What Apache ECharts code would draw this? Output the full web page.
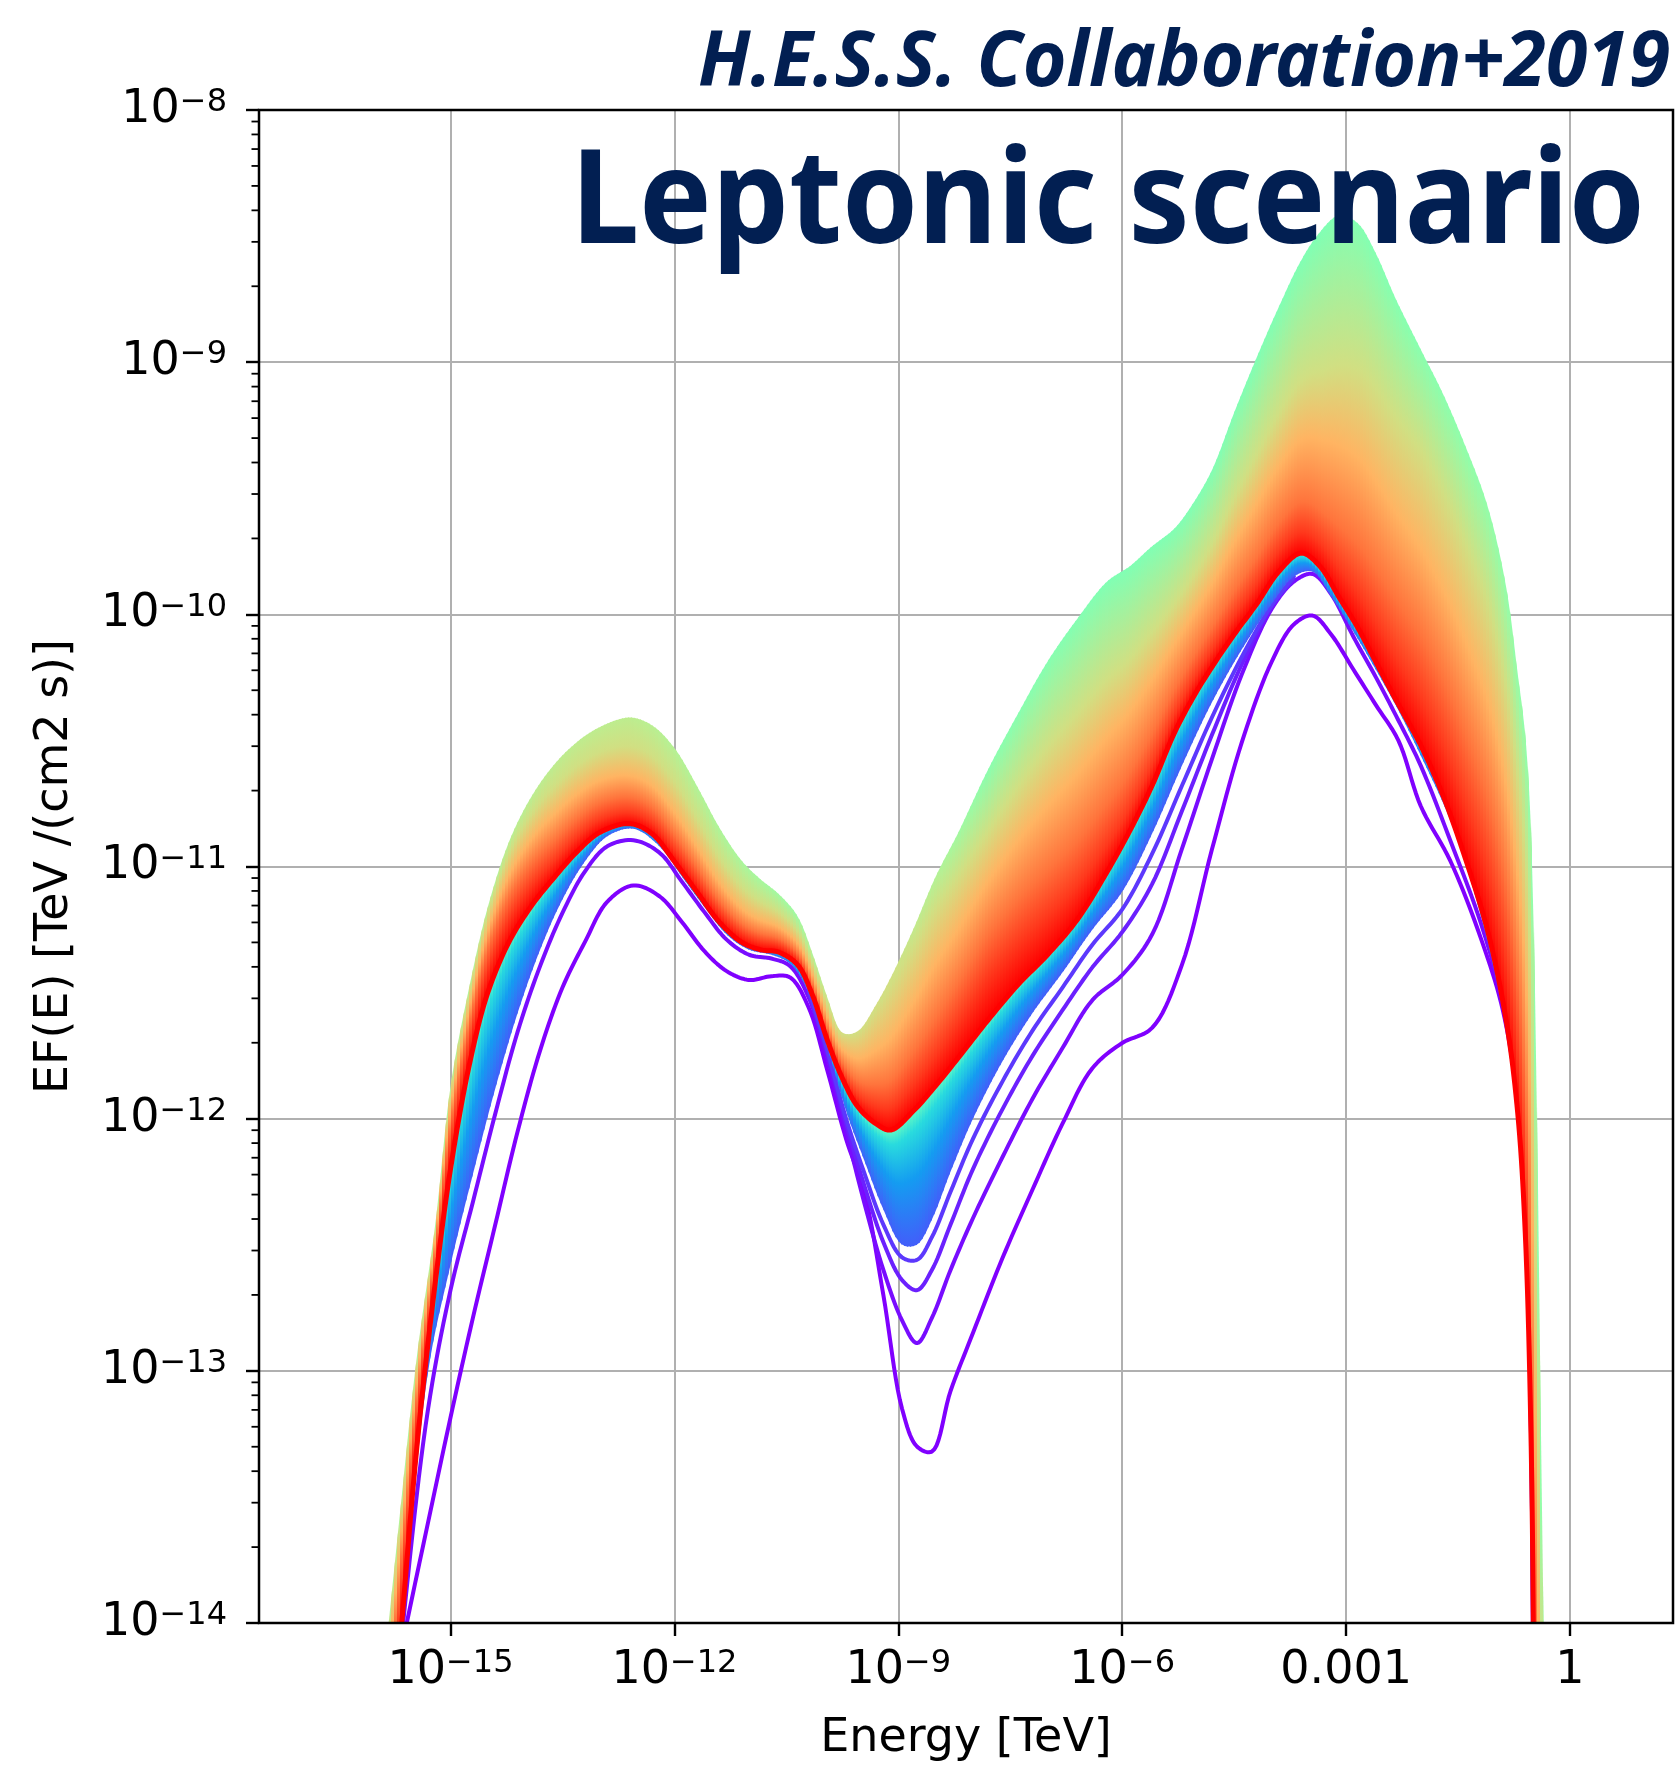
<!DOCTYPE html>
<html><head><meta charset="utf-8">
<script src="https://cdn.jsdelivr.net/npm/echarts@6/dist/echarts.min.js"></script>
<style>html,body{margin:0;padding:0;background:#fff}#chart{width:1676px;height:1767px}</style>
</head><body><div id="chart"></div>
<script>
// ===== DATA (all values are log10) =====
// tick labels
const xTickValues = [-15, -12, -9, -6, -3, 0];
const xTickLabels = ['10|−15', '10|−12', '10|−9', '10|−6', '0.001', '1'];
const yTickValues = [-14, -13, -12, -11, -10, -9, -8];
const yTickLabels = ['10|−14', '10|−13', '10|−12', '10|−11', '10|−10', '10|−9', '10|−8'];

// energy grid (log10 E/TeV) used by the outer curves of the model family
const gridU = [-16.0,-15.7,-15.45,-15.2,-15.0,-14.75,-14.5,-14.2,-13.9,-13.6,-13.3,-13.0,-12.6,-12.3,-12.0,-11.7,-11.4,-11.1,-10.85,-10.6,-10.35,-10.15,-9.95,-9.75,-9.55,-9.3,-9.1,-8.8,-8.5,-8.2,-7.8,-7.4,-7.0,-6.6,-6.2,-5.9,-5.6,-5.3,-5.05,-4.8,-4.5,-4.2,-3.9,-3.6,-3.35,-3.1,-2.85,-2.6,-2.35,-2.0,-1.7,-1.4,-1.1,-0.85,-0.7,-0.6,-0.52,-0.46,-0.4,-0.3];
// upper envelope of all curves (log10 EF(E))
const topEnvelope = [-14.5,-13.63,-12.94,-12.41,-11.87,-11.48,-11.16,-10.89,-10.715,-10.592,-10.505,-10.447,-10.409,-10.44,-10.53,-10.68,-10.845,-10.977,-11.05,-11.11,-11.197,-11.345,-11.52,-11.66,-11.655,-11.549,-11.44,-11.25,-11.04,-10.868,-10.617,-10.396,-10.187,-10.017,-9.869,-9.81,-9.73,-9.66,-9.56,-9.43,-9.2,-8.983,-8.78,-8.595,-8.484,-8.418,-8.447,-8.57,-8.74,-8.95,-9.127,-9.335,-9.575,-9.9,-10.24,-10.47,-10.85,-11.6,-13.0,-15.2];
// last (red) curve
const redCurve = [-15.1,-14.16,-13.3,-12.64,-12.2,-11.79,-11.5,-11.29,-11.15,-11.04,-10.94,-10.865,-10.83,-10.87,-10.98,-11.1,-11.22,-11.3,-11.33,-11.34,-11.39,-11.51,-11.69,-11.84,-11.95,-12.02,-12.045,-11.97,-11.87,-11.76,-11.61,-11.47,-11.35,-11.21,-11.02,-10.86,-10.68,-10.47,-10.33,-10.21,-10.08,-9.96,-9.83,-9.757,-9.81,-9.93,-10.05,-10.19,-10.33,-10.52,-10.72,-10.97,-11.26,-11.62,-11.98,-12.45,-13.3,-15.0,-16.0,-16.5];

// energy grid for the early (violet/blue) curves
const gridL = [-16.0,-15.6,-15.3,-15.0,-14.7,-14.4,-14.1,-13.8,-13.5,-13.2,-12.9,-12.55,-12.2,-11.9,-11.6,-11.3,-11.0,-10.7,-10.45,-10.2,-9.95,-9.7,-9.45,-9.2,-8.95,-8.75,-8.55,-8.3,-8.0,-7.6,-7.2,-6.8,-6.4,-6.0,-5.6,-5.2,-4.8,-4.4,-4.0,-3.7,-3.45,-3.2,-2.9,-2.6,-2.3,-2.0,-1.6,-1.2,-0.9,-0.7,-0.58,-0.52,-0.46,-0.35];
// lower edge of the dense blue bundle
const blueEdge = [-15.3,-13.88,-13.0,-12.58,-12.22,-11.88,-11.58,-11.33,-11.13,-10.98,-10.88,-10.85,-10.92,-11.04,-11.16,-11.27,-11.33,-11.35,-11.385,-11.5,-11.72,-11.97,-12.17,-12.36,-12.5,-12.5,-12.4,-12.21,-12.0,-11.77,-11.58,-11.42,-11.25,-11.1,-10.87,-10.6,-10.35,-10.14,-9.96,-9.85,-9.83,-9.93,-10.07,-10.22,-10.38,-10.56,-10.82,-11.19,-11.58,-12.0,-12.6,-13.4,-15.0,-16.0];
// first (lowest) violet curve
const violet1 = [-14.6,-14.02,-13.6,-13.185,-12.79,-12.42,-12.05,-11.73,-11.48,-11.30,-11.14,-11.075,-11.118,-11.22,-11.335,-11.415,-11.45,-11.435,-11.44,-11.56,-11.81,-12.08,-12.3,-12.7,-13.15,-13.3,-13.32,-13.08,-12.85,-12.55,-12.28,-12.02,-11.8,-11.7,-11.64,-11.39,-10.935,-10.51,-10.19,-10.04,-10.005,-10.08,-10.22,-10.36,-10.5,-10.76,-10.98,-11.28,-11.57,-11.94,-12.47,-13.3,-15.0,-16.0];
// second violet curve
const violet2 = [-15.2,-13.9,-13.15,-12.68,-12.33,-11.98,-11.655,-11.395,-11.184,-11.02,-10.92,-10.896,-10.945,-11.06,-11.18,-11.29,-11.35,-11.365,-11.395,-11.52,-11.76,-12.05,-12.34,-12.6,-12.8,-12.89,-12.79,-12.6,-12.395,-12.15,-11.92,-11.72,-11.53,-11.43,-11.27,-10.93,-10.576,-10.24,-9.98,-9.87,-9.84,-9.92,-10.09,-10.25,-10.42,-10.6,-10.9,-11.22,-11.54,-11.92,-12.47,-13.3,-15.0,-16.0];
// two more separated curves, visible around the 1e-9..1e-4 TeV trough
const gridP = [-10.2,-9.95,-9.7,-9.45,-9.2,-8.95,-8.75,-8.55,-8.3,-8.0,-7.6,-7.2,-6.8,-6.4,-6.0,-5.6,-5.2,-4.8,-4.4,-4.0,-3.7];
const violet3 = [-11.5,-11.74,-12.02,-12.27,-12.49,-12.64,-12.68,-12.6,-12.42,-12.2,-11.96,-11.75,-11.57,-11.4,-11.26,-11.07,-10.78,-10.48,-10.2,-9.97,-9.86];
const violet4 = [-11.49,-11.73,-12.0,-12.22,-12.42,-12.55,-12.56,-12.47,-12.29,-12.08,-11.85,-11.65,-11.48,-11.31,-11.17,-10.95,-10.68,-10.41,-10.17,-9.965,-9.85];

// ===== STYLE (colour structure inside the dense fan, layout) =====
const X_MIN = -17.566, X_MAX = 1.380;
const stopX   = [-15.5,-14.5,-13.6,-12.6,-11.0,-10.35,-9.7,-9.1,-8.5,-7.8,-6.0,-5.0,-3.3,-2.0,-1.0,-0.4];
const stopTop = [0.60,0.60,0.62,0.62,0.58,0.56,0.68,0.66,0.60,0.52,0.50,0.50,0.50,0.52,0.54,0.54];
const stopF1  = [0.10,0.10,0.20,0.27,0.32,0.30,0.00,0.05,0.15,0.25,0.35,0.38,0.42,0.25,0.22,0.22];
const stopF2  = [0.30,0.30,0.45,0.55,0.59,0.55,0.35,0.40,0.42,0.45,0.55,0.58,0.62,0.50,0.45,0.45];
const stopF3  = [0.50,0.50,0.68,0.75,0.77,0.75,0.65,0.68,0.68,0.66,0.78,0.80,0.83,0.72,0.68,0.68];
const stopF4  = [0.75,0.75,0.86,0.90,0.89,0.88,0.85,0.86,0.86,0.83,0.92,0.92,0.93,0.88,0.86,0.86];

function rainbow(t) {
  const r = Math.min(1, Math.abs(2 * t - 0.5)), g = Math.sin(Math.PI * t), b = Math.cos(Math.PI * t / 2);
  return 'rgb(' + Math.round(r * 255) + ',' + Math.round(g * 255) + ',' + Math.round(b * 255) + ')';
}
function spline(pts, steps) {
  const n = pts.length, out = [];
  const P = i => {
    if (i < 0) return [2 * pts[0][0] - pts[1][0], 2 * pts[0][1] - pts[1][1]];
    if (i >= n) return [2 * pts[n - 1][0] - pts[n - 2][0], 2 * pts[n - 1][1] - pts[n - 2][1]];
    return pts[i];
  };
  const L = (p, q, u) => [p[0] + (q[0] - p[0]) * u, p[1] + (q[1] - p[1]) * u];
  const D = (p, q) => Math.max(Math.sqrt(Math.hypot(q[0] - p[0], q[1] - p[1])), 1e-4);
  for (let i = 0; i < n - 1; i++) {
    const p0 = P(i - 1), p1 = P(i), p2 = P(i + 1), p3 = P(i + 2);
    const t0 = 0, t1 = D(p0, p1), t2 = t1 + D(p1, p2), t3 = t2 + D(p2, p3);
    for (let s = 0; s < steps; s++) {
      const t = t1 + (t2 - t1) * s / steps;
      const A1 = L(p0, p1, (t - t0) / (t1 - t0)), A2 = L(p1, p2, (t - t1) / (t2 - t1)), A3 = L(p2, p3, (t - t2) / (t3 - t2));
      const B1 = L(A1, A2, (t - t0) / (t2 - t0)), B2 = L(A2, A3, (t - t1) / (t3 - t1));
      out.push(L(B1, B2, (t - t1) / (t2 - t1)));
    }
  }
  out.push(pts[n - 1]);
  return out;
}
function yAt(curve, x) {
  for (let i = 0; i < curve.length - 1; i++) {
    const a = curve[i], b = curve[i + 1];
    if ((a[0] <= x && x <= b[0]) || (b[0] <= x && x <= a[0])) {
      const dx = b[0] - a[0];
      return dx === 0 ? Math.min(a[1], b[1]) : a[1] + (b[1] - a[1]) * (x - a[0]) / dx;
    }
  }
  return null;
}
function interp1(x, xs, vs) {
  if (x <= xs[0]) return vs[0];
  for (let i = 0; i < xs.length - 1; i++) {
    if (x <= xs[i + 1]) { const u = (x - xs[i]) / (xs[i + 1] - xs[i]); return vs[i] + (vs[i + 1] - vs[i]) * u; }
  }
  return vs[vs.length - 1];
}
const toPx = (api, xs, ys) => xs.map((x, i) => api.coord([x, ys[i]]));

function curveSeries(name, xs, ys, t, width) {
  return {
    type: 'custom', name, clip: true, silent: true, animation: false,
    data: xs.map((x, i) => [x, ys[i]]), encode: { x: 0, y: 1 },
    renderItem(params, api) {
      if (params.dataIndex !== 0) return null;
      return { type: 'polyline', shape: { points: spline(toPx(api, xs, ys), 10) },
        style: { stroke: rainbow(t), lineWidth: width, fill: null, lineJoin: 'round', lineCap: 'round' } };
    }
  };
}
function bandSeries(name, xT, yT, xB, yB, stopsAt) {
  return {
    type: 'custom', name, clip: true, silent: true, animation: false,
    data: [[xT[0], yT[0]]], encode: { x: 0, y: 1 },
    renderItem(params, api) {
      const cs = params.coordSys;
      const top = spline(toPx(api, xT, yT), 10), bot = spline(toPx(api, xB, yB), 10);
      const stopPx = stopX.map(v => api.coord([v, -10])[0]);
      const children = [];
      const step = 3;
      for (let sx = cs.x; sx < cs.x + cs.width; sx += step) {
        const xa = sx, xb = Math.min(sx + step + 1, cs.x + cs.width);
        const ta = yAt(top, xa), tb = yAt(top, xb), ba = yAt(bot, xa), bb = yAt(bot, xb);
        if (ta == null || tb == null || ba == null || bb == null) continue;
        const yt = (ta + tb) / 2, yb = (ba + bb) / 2;
        if (yb - yt < 0.5) continue;
        const xm = (xa + xb) / 2;
        children.push({ type: 'polygon', shape: { points: [[xa, ta], [xb, tb], [xb, bb], [xa, ba]] },
          style: { fill: { type: 'linear', x: xm, y: yt, x2: xm, y2: yb, global: true, colorStops: stopsAt(xm, stopPx) } } });
      }
      return { type: 'group', children };
    }
  };
}
const upperStops = (px, sp) => {
  const f1 = interp1(px, sp, stopF1), f2 = interp1(px, sp, stopF2), f3 = interp1(px, sp, stopF3), f4 = interp1(px, sp, stopF4);
  return [
    { offset: 0, color: rainbow(interp1(px, sp, stopTop)) },
    { offset: f1, color: rainbow(0.66) }, { offset: f2, color: rainbow(0.75) },
    { offset: f3, color: rainbow(0.85) }, { offset: f4, color: rainbow(0.93) },
    { offset: 1, color: rainbow(1) }
  ];
};
const lowerStops = () => [
  { offset: 0, color: rainbow(0.45) }, { offset: 0.15, color: rainbow(0.33) },
  { offset: 0.5, color: rainbow(0.21) }, { offset: 1, color: rainbow(0.12) }
];

const yMinor = [];
for (let n = -14; n < -8; n++) for (let k = 2; k <= 9; k++) yMinor.push(n + Math.log10(k));

const richStyle = {
  b: { fontSize: 46, fontFamily: 'DejaVu Sans', color: '#000', lineHeight: 46 },
  s: { fontSize: 32, fontFamily: 'DejaVu Sans', color: '#000', lineHeight: 20, verticalAlign: 'top' }
};
const labelFmt = (vals, labs) => v => {
  const i = vals.findIndex(q => Math.abs(q - v) < 1e-6);
  if (i < 0) return '';
  const parts = labs[i].split('|');
  return parts.length > 1 ? '{b|' + parts[0] + '}{s|' + parts[1] + '}' : '{b|' + parts[0] + '}';
};

const chart = echarts.init(document.getElementById('chart'), null, { renderer: 'canvas' });
chart.setOption({
  backgroundColor: '#fff',
  animation: false,
  textStyle: { fontFamily: 'DejaVu Sans' },
  grid: { left: 259, top: 110, right: 3, bottom: 141, show: false },
  xAxis: {
    type: 'value', min: X_MIN, max: X_MAX, minInterval: 3, maxInterval: 3,
    name: 'Energy [TeV]', nameLocation: 'middle', nameGap: 93,
    nameTextStyle: { fontSize: 46, fontFamily: 'DejaVu Sans', color: '#000' },
    axisLine: { show: false, onZero: false },
    axisTick: { show: true, length: 13, lineStyle: { color: '#000', width: 2.4 }, customValues: xTickValues },
    axisLabel: { margin: 25, formatter: labelFmt(xTickValues, xTickLabels), rich: richStyle, customValues: xTickValues },
    splitLine: { show: true, lineStyle: { color: '#b0b0b0', width: 2 } }
  },
  yAxis: {
    type: 'value', min: -14, max: -8, interval: 1,
    name: 'EF(E) [TeV /(cm2 s)]', nameLocation: 'middle', nameGap: 181, nameRotate: 90,
    nameTextStyle: { fontSize: 46, fontFamily: 'DejaVu Sans', color: '#000' },
    axisLine: { show: false, onZero: false },
    axisTick: { show: true, length: 13, lineStyle: { color: '#000', width: 2.4 } },
    axisLabel: { margin: 32, formatter: labelFmt(yTickValues, yTickLabels), rich: richStyle },
    splitLine: { show: true, lineStyle: { color: '#b0b0b0', width: 2 } }
  },
  graphic: [
    { type: 'text', x: 1670, y: 64, scaleX: 0.975, z: 100,
      style: { text: 'H.E.S.S. Collaboration+2019', x: 0, y: 0, font: 'italic bold 77px "Noto Sans"', fill: '#021f52', textAlign: 'right', textVerticalAlign: 'middle' } },
    { type: 'text', x: 1645, y: 206, scaleX: 0.931, z: 100,
      style: { text: 'Leptonic scenario', x: 0, y: 0, font: 'bold 131px "Noto Sans"', fill: '#021f52', textAlign: 'right', textVerticalAlign: 'middle' } }
  ],
  series: [
    curveSeries('violet1', gridL, violet1, 0.0, 4),
    curveSeries('violet2', gridL, violet2, 0.015, 4),
    curveSeries('violet3', gridP, violet3, 0.04, 4),
    curveSeries('violet4', gridP, violet4, 0.07, 4),
    bandSeries('early curves', gridU, redCurve, gridL, blueEdge, lowerStops),
    bandSeries('late curves', gridU, topEnvelope, gridU, redCurve, upperStops),
    curveSeries('last curve', gridU, redCurve, 1.0, 5),
    {
      type: 'custom', name: 'minor ticks', clip: false, silent: true, animation: false,
      data: yMinor.map(v => [X_MIN, v]), encode: { x: 0, y: 1 },
      renderItem(params, api) {
        const p = api.coord([api.value(0), api.value(1)]);
        return { type: 'line', shape: { x1: p[0] - 7.5, y1: p[1], x2: p[0], y2: p[1] }, style: { stroke: '#000', lineWidth: 1.8 } };
      }
    },
    {
      type: 'custom', name: 'frame', clip: false, silent: true, animation: false, z: 10,
      data: [[X_MIN, -14]], encode: { x: 0, y: 1 },
      renderItem(params) {
        const cs = params.coordSys;
        return { type: 'rect', shape: { x: cs.x, y: cs.y, width: cs.width, height: cs.height },
          style: { fill: null, stroke: '#000', lineWidth: 2.5 } };
      }
    }
  ]
});
</script>
</body></html>
